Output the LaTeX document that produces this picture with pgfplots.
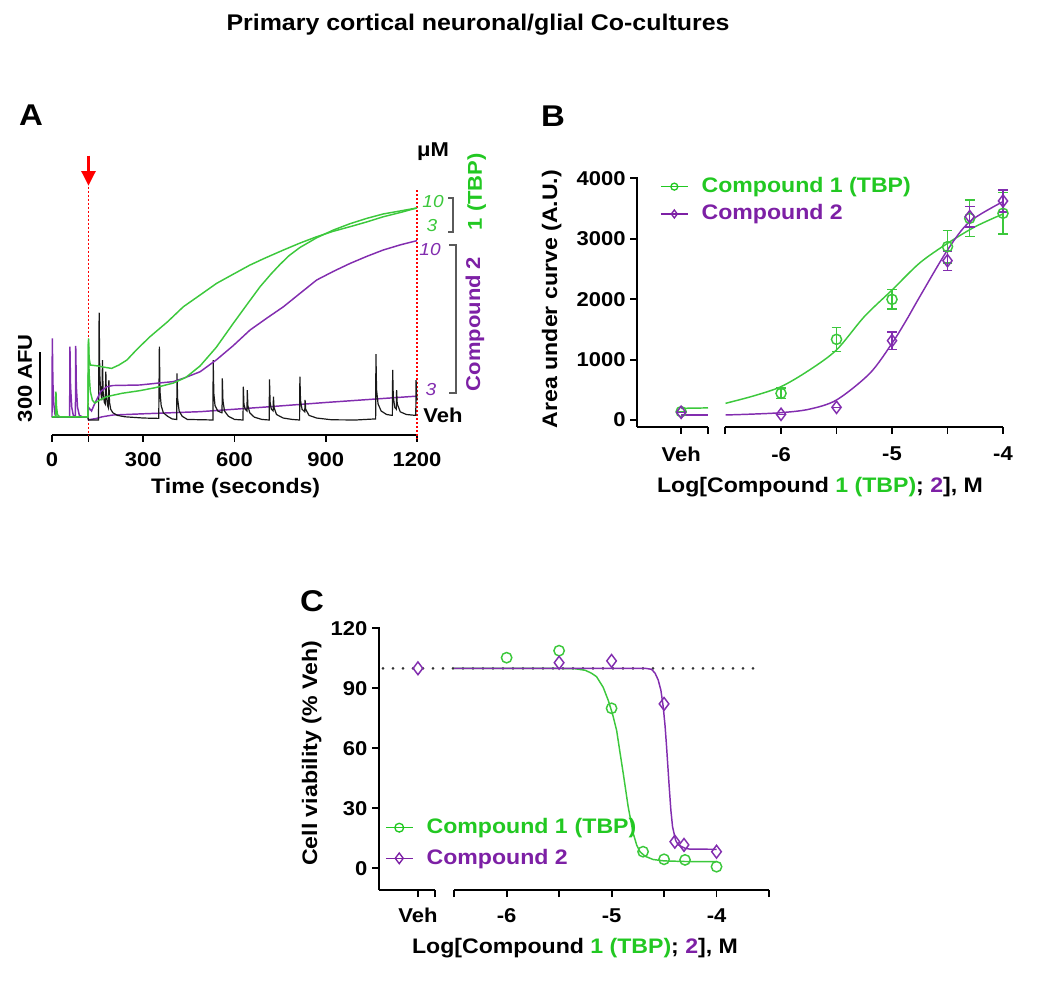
\documentclass[border=0pt]{standalone}
\usepackage{pgfplots}
\pgfplotsset{compat=1.18}
\usepackage{fontspec}
\setmainfont{Liberation Sans}[FakeStretch=1.1]
\usetikzlibrary{arrows.meta}
\definecolor{cgreen}{RGB}{34,200,34}
\definecolor{cpurple}{RGB}{125,32,165}
\definecolor{tgreen}{RGB}{60,200,60}
\definecolor{tpurple}{RGB}{130,45,175}
\definecolor{tblack}{RGB}{25,25,25}
\definecolor{bgray}{RGB}{90,90,90}
\newcommand{\fs}[1]{\fontsize{#1}{#1}\selectfont}
\pgfplotsset{
  prism/.style={
    scale only axis, clip=false,
    axis line style={line width=1.4pt},
    every tick/.style={black, line width=1.4pt},
    major tick length=5.25pt,
    ticklabel style={font=\bfseries\fs{15}},
    /pgf/number format/assume math mode=true,
  },
  leg/.style={
    legend style={draw=none, fill=none, inner sep=0pt,
      font=\bfseries\fs{15.75}, row sep=3pt,
      nodes={inner sep=1pt, text height=12pt, text depth=3.5pt},
      /tikz/every odd column/.append style={column sep=9pt}},
    legend cell align=left,
    legend image code/.code={\draw[mark repeat=2,mark phase=2,##1] plot coordinates {(0pt,0pt) (10pt,0pt) (20pt,0pt)};},
  },
}
\begin{document}
\begin{tikzpicture}[x=0.75pt,y=0.75pt]
\path[use as bounding box] (0,0) rectangle (1050,986);
% title and panel letters
\node[font=\bfseries\fs{17}] at (478,961) {Primary cortical neuronal/glial Co-cultures};
\node[font=\bfseries\fs{22.5}] at (31,871) {A};
\node[font=\bfseries\fs{22.5}] at (553,870) {B};
\node[font=\bfseries\fs{22.5}] at (312,385) {C};

% ================= Panel A =================
\begin{axis}[prism,
  at={(39pt,413.25pt)}, anchor=south west,
  width=273.75pt, height=213.75pt,
  xmin=0, xmax=1200, ymin=-96, ymax=1517,
  axis x line*=bottom, axis y line=none, ytick=\empty,
  tick align=outside,
  xticklabel style={yshift=-4.5pt},
  xtick={0,120,300,600,900,1200}, xticklabels={0,,300,600,900,1200},
]
% red markers of addition and end
\draw[red, line width=0.9pt, dash pattern=on 1.5pt off 1.5pt] (axis cs:120,1310) -- (axis cs:120,-96);
\draw[red, line width=0.9pt, dash pattern=on 1.5pt off 1.5pt] (axis cs:1200,1290) -- (axis cs:1200,-120);
\draw[red, line width=2pt, -{Triangle[width=10.5pt,length=11pt]}] (axis cs:120,1485) -- (axis cs:120,1315);
% scale bar
\draw[black, line width=1.3pt] (axis cs:-39.5,74) -- (axis cs:-39.5,374);
\node[rotate=90, font=\bfseries\fs{15}] at (axis cs:-89,226) {300 AFU};
% purple 3 uM
\addplot[tpurple, line width=1.1pt] coordinates {
(0,7) (118,7) (120,-10) (147,-2) (165,7) (200,17) (300,24) (487,36) (700,62) (900,88) (1100,112) (1200,124)};
% Veh (black)
\addplot[tblack, line width=0.9pt] coordinates {
(0,4) (118,4) (120,-11) (140,-11)
(153,-11) (155,596) (157,250) (160,150) (164,100) (166,328) (168,150) (172,90) (175,80) (177,262) (179,120) (183,70) (185,60) (187,215) (189,90) (193,50) (200,30) (215,15) (240,7) (300,0) (350,-2)
(351,-2) (353,404) (355,150) (359,70) (366,30) (380,10) (395,-5) (409,-8)
(410,-8) (411,253) (413,110) (418,40) (428,10) (445,-8) (528,-11)
(529,-11) (530,328) (532,140) (536,70) (545,40) (558,30)
(559,30) (560,225) (562,100) (567,40) (580,10) (600,-8) (627,-11)
(628,-11) (629,177) (631,80) (635,50) (641,40) (642,158) (644,70) (650,30) (665,5) (690,-8) (713,-11)
(714,-11) (715,219) (717,90) (721,50) (727,40) (728,121) (730,60) (738,20) (760,0) (790,-8) (813,-11)
(814,-11) (815,234) (817,100) (822,50) (831,35) (832,102) (834,50) (845,15) (870,0) (920,-10) (1000,-11) (1063,-5)
(1064,-5) (1065,362) (1067,160) (1072,80) (1082,40) (1100,20) (1118,15)
(1119,15) (1120,272) (1122,120) (1127,60) (1132,50) (1133,158) (1135,80) (1145,35) (1165,20) (1195,15)
(1196,15) (1197,215) (1199,120) (1200,100)};
% purple 10 uM
\addplot[tpurple, line width=1.1pt] coordinates {
(0,7) (1,451) (3,200) (6,80) (10,20) (15,7) (58,7) (59,404) (61,180) (65,60) (70,15) (77,7) (78,409) (80,180) (84,60) (90,15) (100,7) (118,7)
(120,60) (130,40) (140,80) (160,150) (180,177) (200,184) (289,187) (350,198) (399,206) (432,225) (487,262) (541,330) (596,410) (651,498) (706,565) (761,630) (815,705) (870,781) (925,830) (980,875) (1035,915) (1089,951) (1145,980) (1200,1004)};
% green 3 uM
\addplot[tgreen, line width=1.1pt] coordinates {
(0,7) (118,7) (120,430) (122,250) (126,150) (133,100) (141,85) (160,105) (180,121) (230,140) (289,155) (340,172) (399,198) (440,230) (487,295) (540,400) (596,536) (640,640) (684,743) (720,815) (750,870) (780,920) (815,965) (870,1020) (925,1064) (980,1100) (1035,1130) (1089,1155) (1145,1172) (1200,1189)};
% green 10 uM
\addplot[tgreen, line width=1.1pt] coordinates {
(0,7) (12,7) (13,149) (15,60) (18,20) (25,7) (118,7) (120,451) (122,340) (126,300) (150,295) (170,288) (196,281) (220,300) (246,328) (280,390) (322,460) (380,545) (432,630) (490,700) (541,762) (600,818) (651,866) (700,905) (761,951) (815,990) (870,1026) (925,1057) (980,1083) (1035,1110) (1089,1139) (1145,1163) (1200,1189)};
\end{axis}
\node[font=\bfseries\fs{15.75}] at (235.7,497.7) {Time (seconds)};
% right-hand labels of panel A
\node[font=\bfseries\fs{15}] at (433,834.3) {μM};
\node[font=\itshape\fs{13}, text=tgreen] at (433,784.3) {10};
\node[font=\itshape\fs{13}, text=tgreen] at (432,760) {3};
\node[font=\itshape\fs{13}, text=tpurple] at (430,736.7) {10};
\node[font=\itshape\fs{13}, text=tpurple] at (431,596) {3};
\node[font=\bfseries\fs{15}] at (443,571) {Veh};
\draw[bgray, line width=1pt] (448,788) -- (453,788) -- (453,754) -- (448,754);
\draw[bgray, line width=1pt] (449,741) -- (456,741) -- (456,593) -- (449,593);
\node[rotate=90, font=\bfseries\fs{15}, text=cgreen] at (476.7,794.3) {1 (TBP)};
\node[rotate=90, font=\bfseries\fs{15}, text=cpurple] at (475,662) {Compound 2};

% ================= Panel B =================
\begin{axis}[prism, leg,
  at={(477.975pt,419.475pt)}, anchor=south west,
  width=274.275pt, height=187.05pt,
  xmin=-7.295, xmax=-4, ymin=-111, ymax=4017,
  axis x line*=bottom, axis y line*=left,
  x axis line style={draw=none},
  tick align=outside,
  xticklabel style={yshift=-6.5pt},
  xtick={-6.9,-6.658,-6.505,-6,-5.5,-5,-4.5,-4},
  xticklabels={Veh,,,-6,,-5,,-4},
  ytick={0,1000,2000,3000,4000},
  yticklabels={0,1000,2000,3000,4000},
  legend style={at={(axis cs:-7.09,3636)}, anchor=west},
]
\addlegendimage{cgreen, line width=1pt, mark=o, mark size=2.6pt}
\addlegendentry[text=cgreen]{Compound 1 (TBP)}
\addlegendimage{cpurple, line width=1pt, mark=diamond, mark size=3pt}
\addlegendentry[text=cpurple]{Compound 2}
\draw[line width=1.4pt] (axis cs:-7.295,-111) -- (axis cs:-6.658,-111);
\draw[line width=1.4pt] (axis cs:-6.505,-111) -- (axis cs:-4,-111);
% fitted curves
\addplot[tgreen, line width=1.1pt, forget plot] coordinates {(-6.9,193) (-6.658,200)};
\addplot[tpurple, line width=1.1pt, forget plot] coordinates {(-6.9,83) (-6.658,83)};
\addplot[tgreen, line width=1.1pt, smooth, forget plot] coordinates {
(-6.5,276) (-6.25,397) (-6,552) (-5.75,820) (-5.5,1160) (-5.25,1710) (-5,2151) (-4.75,2600) (-4.5,2924) (-4.25,3200) (-4,3410)};
\addplot[tpurple, line width=1.1pt, smooth, forget plot] coordinates {
(-6.5,83) (-6.25,98) (-6,121) (-5.75,177) (-5.5,331) (-5.2,772) (-5,1269) (-4.87,1655) (-4.75,2041) (-4.5,2814) (-4.3,3283) (-4,3614)};
% data
\addplot[tgreen, only marks, mark=o, mark size=3.8pt, line width=1.1pt, forget plot,
  error bars/.cd, y dir=both, y explicit, error bar style={line width=1.1pt},
  error mark options={rotate=90, mark size=3.7pt, line width=1.1pt}]
  table[x=x, y=y, y error=e] {
x y e
-6.9 138 0
-6 441 85
-5.5 1335 200
-5 1997 160
-4.5 2869 270
-4.3 3338 300
-4 3421 340
};
\addplot[tpurple, only marks, mark=diamond, mark size=4.6pt, line width=1.1pt, forget plot,
  error bars/.cd, y dir=both, y explicit, error bar style={line width=1.1pt},
  error mark options={rotate=90, mark size=3.7pt, line width=1.1pt}]
  table[x=x, y=y, y error=e] {
x y e
-6.9 127 0
-6 94 0
-5.5 210 0
-5 1313 145
-4.5 2637 160
-4.3 3366 170
-4 3625 180
};
\end{axis}
\node[rotate=90, font=\bfseries\fs{15.75}] at (551.7,687) {Area under curve (A.U.)};
\node[font=\bfseries\fs{15.75}] at (820,499) {Log[Compound \textcolor{cgreen}{1 (TBP)}; \textcolor{cpurple}{2}], M};

% ================= Panel C =================
\begin{axis}[prism, leg,
  at={(284.25pt,72pt)}, anchor=south west,
  width=292.5pt, height=197.475pt,
  xmin=-7.216, xmax=-3.5, ymin=-10.85, ymax=120.8,
  axis x line*=bottom, axis y line*=left,
  x axis line style={draw=none},
  tick align=outside,
  xticklabel style={yshift=-5pt},
  xtick={-6.845,-6.683,-6.502,-6,-5.5,-5,-4.5,-4,-3.5},
  xticklabels={Veh,,,-6,,-5,,-4,},
  ytick={0,30,60,90,120},
  yticklabels={0,30,60,90,120},
  legend style={at={(axis cs:-7.159,12.65)}, anchor=west, row sep=5.5pt},
]
\addlegendimage{cgreen, line width=1pt, mark=o, mark size=3.3pt}
\addlegendentry[text=cgreen]{Compound 1\,\,(TBP)}
\addlegendimage{cpurple, line width=1pt, mark=diamond, mark size=4pt}
\addlegendentry[text=cpurple]{Compound 2}
\draw[line width=1.4pt] (axis cs:-7.216,-10.85) -- (axis cs:-6.683,-10.85);
\draw[line width=1.4pt] (axis cs:-6.502,-10.85) -- (axis cs:-3.5,-10.85);
\addplot[black!80, line width=2.2pt, line cap=round, dash pattern=on 0pt off 7.5pt, forget plot] coordinates {(-7.178,100) (-3.559,100)};
\addplot[tgreen, line width=1.1pt, forget plot] coordinates {
(-6.5,100) (-5.6,100) (-5.35,99.8) (-5.25,99) (-5.19,97.5) (-5.143,95.8) (-5.08,90.5) (-5.032,84) (-4.99,77) (-4.952,69) (-4.92,58) (-4.889,47.5) (-4.842,30.8) (-4.794,17.5) (-4.76,11.5) (-4.73,8.3) (-4.68,6) (-4.604,4.4) (-4.5,3.7) (-4.3,3.4) (-4,3.3)};
\addplot[tpurple, line width=1.1pt, forget plot] coordinates {
(-6.5,100) (-4.68,100) (-4.619,99.5) (-4.585,97.5) (-4.556,94.2) (-4.53,89) (-4.508,80.8) (-4.49,71) (-4.476,60.8) (-4.451,40.8) (-4.435,29) (-4.419,20.8) (-4.39,14) (-4.365,11.7) (-4.3,10) (-4.254,9.6) (-4,9.5)};
\addplot[tgreen, only marks, mark=o, mark size=3.9pt, line width=1.1pt, forget plot] coordinates {
(-6,105.3) (-5.5,108.8) (-5,80) (-4.7,8.3) (-4.5,4.5) (-4.3,4.2) (-4,0.8)};
\addplot[tpurple, only marks, mark=diamond, mark size=4.8pt, line width=1.1pt, forget plot] coordinates {
(-6.845,100) (-5.5,102.8) (-5,103.7) (-4.5,82.2) (-4.397,13.3) (-4.31,11.7) (-4,8.3)};
\end{axis}
\node[rotate=90, font=\bfseries\fs{15.75}] at (311.7,232.5) {Cell viability (\% Veh)};
\node[font=\bfseries\fs{15.75}] at (575,37.7) {Log[Compound \textcolor{cgreen}{1 (TBP)}; \textcolor{cpurple}{2}], M};
\end{tikzpicture}
\end{document}
